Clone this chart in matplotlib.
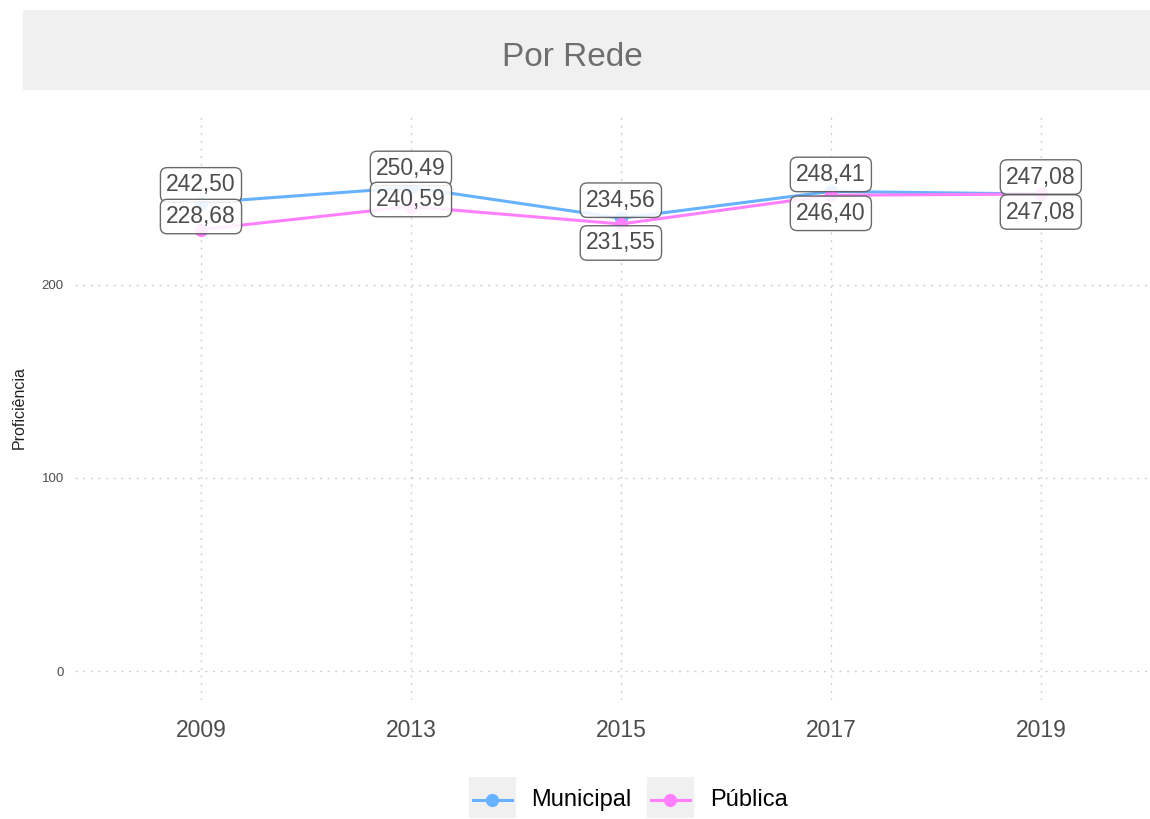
import matplotlib.pyplot as plt
from matplotlib.patches import Rectangle
from matplotlib.lines import Line2D
from matplotlib import font_manager

# data
years = ["2009", "2013", "2015", "2017", "2019"]
municipal = [242.50, 250.49, 234.56, 248.41, 247.08]
publica = [228.68, 240.59, 231.55, 246.40, 247.08]
series_names = ["Municipal", "Pública"]
y_ticks = [0, 100, 200]

# label nudges in pixels (up is positive), mimicking the repel layout
nudge_mun = [18, 19, 18, 17, 17]
nudge_pub = [13, 7, -19, -18, -18]

col_mun = "#66B2FF"
col_pub = "#FF80FF"
txt_gray = "#4D4D4D"

plt.rcParams["font.family"] = ["Liberation Sans", "DejaVu Sans"]
names = {f.name for f in font_manager.fontManager.ttflist}
title_font = "Liberation Sans Narrow" if "Liberation Sans Narrow" in names else "Liberation Sans"

W, H = 1150, 819
fig = plt.figure(figsize=(W / 100, H / 100), dpi=100)


def px_box(x0, y_top, x1, y_bot):
    return [x0 / W, 1 - y_bot / H, (x1 - x0) / W, (y_bot - y_top) / H]


# title strip
fig.patches.append(Rectangle((23 / W, 1 - 90 / H), (W - 23) / W, 80 / H,
                             transform=fig.transFigure, facecolor="#F0F0F0",
                             edgecolor="none", zorder=0))
fig.text(572 / W, 1 - 57 / H, "Por Rede", ha="center", va="center",
         fontsize=24, color="#6E6E6E", family=title_font)

ax = fig.add_axes(px_box(75, 115, 1150, 700))
x = list(range(len(years)))
ax.set_xlim(-0.6, 4.52)
ax.set_ylim(-15, 288)

ax.plot(x, municipal, color=col_mun, lw=2.2, marker="o", ms=8.5, zorder=3)
ax.plot(x, publica, color=col_pub, lw=2.2, marker="o", ms=8.5, zorder=4)

box = dict(boxstyle="round,pad=0.25,rounding_size=0.3", facecolor="white",
           edgecolor="#555555", linewidth=1.0, alpha=0.88)
for vals, nudges in ((municipal, nudge_mun), (publica, nudge_pub)):
    for xi, v, n in zip(x, vals, nudges):
        ax.annotate(f"{v:.2f}".replace(".", ","), (xi, v),
                    xytext=(0, n * 0.72), textcoords="offset points",
                    ha="center", va="center", fontsize=16.5, color=txt_gray,
                    bbox=box, zorder=6)

ax.set_xticks(x)
ax.set_xticklabels(years, fontsize=16.5, color=txt_gray)
ax.set_yticks(y_ticks)
ax.set_yticklabels([str(t) for t in y_ticks], fontsize=9.5, color=txt_gray)
ax.tick_params(length=0, axis="x", pad=14)
ax.tick_params(length=0, axis="y", pad=8)
ax.grid(True, color="#D0D0D0", linestyle=(0, (1.5, 4)), linewidth=1.0)
for s in ax.spines.values():
    s.set_visible(False)
ax.set_axisbelow(True)
fig.text(19 / W, 1 - 408 / H, "Proficiência", rotation=90, ha="center",
         va="center", fontsize=11.5, color="#222222")

# legend drawn by hand to get the grey key backgrounds
legend_items = [(series_names[0], col_mun, 469, 531), (series_names[1], col_pub, 647, 710)]
for name, col, kx, tx in legend_items:
    fig.patches.append(Rectangle((kx / W, 1 - 818 / H), 47 / W, 41 / H,
                                 transform=fig.transFigure, facecolor="#F0F0F0",
                                 edgecolor="none"))
    fig.lines.append(Line2D([(kx + 4) / W, (kx + 43) / W], [1 - 800 / H] * 2,
                            transform=fig.transFigure, color=col, lw=2.2))
    fig.lines.append(Line2D([(kx + 23) / W], [1 - 800 / H], transform=fig.transFigure,
                            color=col, marker="o", ms=8.5, lw=0))
    fig.text(tx / W, 1 - 800 / H, name, ha="left", va="center", fontsize=17,
             color="black")

fig.savefig("out.png", dpi=100)
